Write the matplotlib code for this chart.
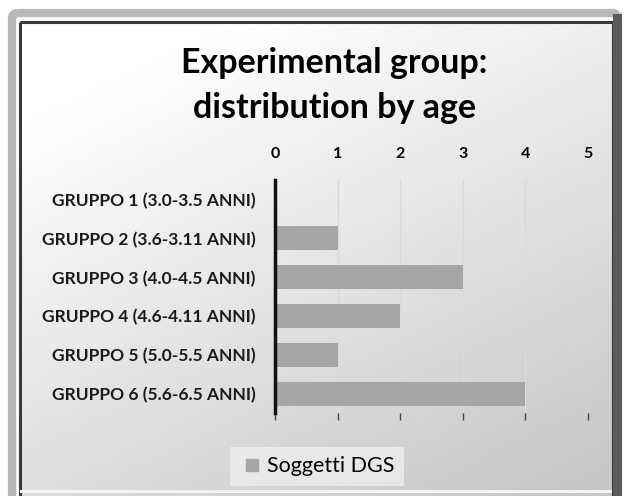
import matplotlib.pyplot as plt
import numpy as np
from matplotlib.patches import Rectangle, FancyBboxPatch
from matplotlib.lines import Line2D

# data
groups = ['GRUPPO 1 (3.0-3.5 ANNI)', 'GRUPPO 2 (3.6-3.11 ANNI)', 'GRUPPO 3 (4.0-4.5 ANNI)',
          'GRUPPO 4 (4.6-4.11 ANNI)', 'GRUPPO 5 (5.0-5.5 ANNI)', 'GRUPPO 6 (5.6-6.5 ANNI)']
soggetti = [0, 1, 3, 2, 1, 4]
xticks_vals = [0, 1, 2, 3, 4, 5]
title = 'Experimental group:\ndistribution by age'
series_name = 'Soggetti DGS'

plt.rcParams['font.family'] = ['Lato', 'DejaVu Sans']

fig = plt.figure(figsize=(6.25, 4.96), dpi=100)

# background with frame and gradient
bg = fig.add_axes([0, 0, 1, 1], zorder=-5)
bg.set_xlim(0, 625)
bg.set_ylim(496, 0)
bg.axis('off')
gx, gy = np.meshgrid(np.linspace(0, 1, 200), np.linspace(0, 1, 200))
grad = np.clip(0.75 * gy + 0.45 * gx - 0.15, 0, 1)
bg.imshow(1 - 0.22 * grad, cmap='gray', vmin=0, vmax=1, extent=[20, 612, 496, 22],
          aspect='auto', interpolation='bilinear')
bg.add_patch(FancyBboxPatch((12, 13), 606, 500, boxstyle='round,pad=0,rounding_size=6',
                            fill=False, ec='#b8b8b8', lw=6))
bg.add_patch(Rectangle((19.5, 21.5), 593, 480, fill=False, ec='#3a3a3a', lw=2.2))
bg.add_patch(Rectangle((613, 14), 9, 490, fc='#5a5a5a', ec='none'))
bg.add_patch(Rectangle((20, 490), 592, 3, fc='#f4f4f4', ec='none'))

fig.text(0.535, 0.828, title, ha='center', va='center', fontsize=24.5,
         fontweight='bold', linespacing=1.5, color='black')

ax = fig.add_axes([0.44, 0.167, 0.5008, 0.47])
ax.patch.set_alpha(0)
y = np.arange(len(groups))
ax.barh(y, soggetti, height=0.62, color='#a6a6a6', zorder=2)
ax.set_ylim(len(groups) - 0.5, -0.5)
ax.set_xlim(0, 5)
ax.set_yticks(y)
ax.set_yticklabels(groups, fontsize=12.5, fontweight='bold', color='#1a1a1a')
ax.set_xticks(xticks_vals)
ax.set_xticklabels([str(v) for v in xticks_vals], fontsize=11.5, fontweight='bold')
ax.tick_params(axis='y', length=0, pad=14)
ax.tick_params(axis='x', top=True, bottom=True, labeltop=True, labelbottom=False,
               length=5, width=1, color='#444444', pad=8.5)
for t in ax.xaxis.get_major_ticks():
    t.tick2line.set_visible(False)
for s in ['top', 'right', 'bottom']:
    ax.spines[s].set_visible(False)
ax.spines['left'].set_linewidth(2.5)
ax.spines['left'].set_color('#111111')
ax.grid(axis='x', color='#dadada', lw=1, zorder=0)

handle = Line2D([], [], marker='s', ls='none', color='#a6a6a6', markersize=8)
leg = fig.legend([handle], [series_name], loc='center', bbox_to_anchor=(0.507, 0.06),
                 frameon=True, fontsize=15.5, handletextpad=0.1, borderpad=0.45,
                 handlelength=1.2, fancybox=False)
leg.get_frame().set_facecolor('#eeeeee')
leg.get_frame().set_edgecolor('none')
leg.get_frame().set_alpha(0.8)

fig.savefig('out.png', dpi=100)
